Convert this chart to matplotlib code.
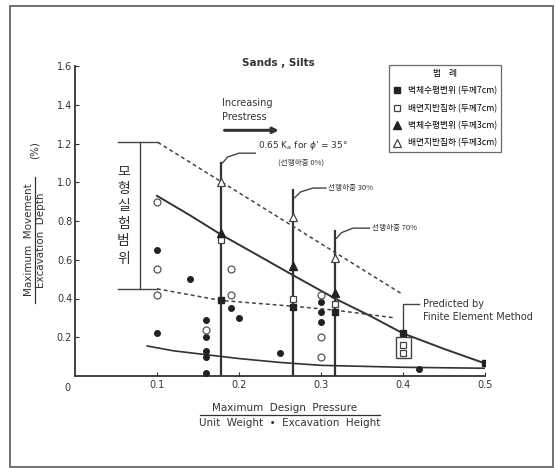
import matplotlib
matplotlib.use("Agg")
import matplotlib.pyplot as plt
from matplotlib.patches import Rectangle, FancyArrowPatch

plt.rcParams['font.family'] = ['DejaVu Sans']
KR = ['Noto Sans CJK KR', 'DejaVu Sans']

# --- data ---
fc_x = [0.10, 0.10, 0.14, 0.16, 0.16, 0.16, 0.16, 0.16, 0.19, 0.20, 0.25, 0.30, 0.30, 0.30, 0.42]
fc_y = [0.65, 0.22, 0.50, 0.29, 0.20, 0.13, 0.10, 0.015, 0.35, 0.30, 0.12, 0.38, 0.33, 0.28, 0.036]

oc_x = [0.10, 0.10, 0.10, 0.16, 0.19, 0.19, 0.30, 0.30, 0.30]
oc_y = [0.90, 0.55, 0.42, 0.24, 0.55, 0.42, 0.42, 0.20, 0.10]

fs_x = [0.178, 0.266, 0.317, 0.40, 0.50]
fs_y = [0.39, 0.355, 0.33, 0.22, 0.065]
os_x = [0.178, 0.266, 0.317, 0.40, 0.40]
os_y = [0.70, 0.40, 0.37, 0.16, 0.12]
ft_x = [0.178, 0.266, 0.317]
ft_y = [0.74, 0.57, 0.43]
ot_x = [0.178, 0.266, 0.317]
ot_y = [1.00, 0.82, 0.61]

upper_dash_x = [0.101, 0.40]
upper_dash_y = [1.206, 0.42]
lower_dash_x = [0.10, 0.178, 0.266, 0.317, 0.39]
lower_dash_y = [0.45, 0.39, 0.36, 0.34, 0.30]
upper_curve_x = [0.10, 0.14, 0.178, 0.22, 0.266, 0.317, 0.36, 0.40, 0.45, 0.50]
upper_curve_y = [0.93, 0.83, 0.73, 0.63, 0.52, 0.40, 0.31, 0.22, 0.14, 0.065]
lower_curve_x = [0.088, 0.12, 0.16, 0.20, 0.25, 0.30, 0.40, 0.50]
lower_curve_y = [0.155, 0.13, 0.11, 0.09, 0.07, 0.055, 0.045, 0.04]

vline_x = [0.178, 0.266, 0.317]
vline_top = [1.10, 0.96, 0.75]

range_label = '모형실험범위'
range_char_y = [1.055, 0.965, 0.875, 0.785, 0.695, 0.605]

legend_labels = ['벽체수평변위 (두께7cm)', '배면지반침하 (두께7cm)',
                 '벽체수평변위 (두께3cm)', '배면지반침하 (두께3cm)']

W, H = 556, 468
fig = plt.figure(figsize=(W / 100, H / 100), dpi=100)
ax = fig.add_axes([75 / W, 1 - 376 / H, 410 / W, 310 / H])
ax.set_xlim(0, 0.5)
ax.set_ylim(0, 1.6)
for s in ['top', 'right']:
    ax.spines[s].set_visible(False)
for s in ['left', 'bottom']:
    ax.spines[s].set_linewidth(1.3)
    ax.spines[s].set_color('#333333')
ax.set_xticks([0.1, 0.2, 0.3, 0.4, 0.5])
ax.set_xticklabels(['0.1', '0.2', '0.3', '0.4', '0.5'])
ax.set_yticks([0.2, 0.4, 0.6, 0.8, 1.0, 1.2, 1.4, 1.6])
ax.set_yticklabels(['0.2', '0.4', '0.6', '0.8', '1.0', '1.2', '1.4', '1.6'])
ax.tick_params(direction='in', length=3, labelsize=7, colors='#333333', pad=3)
ax.tick_params(axis='y', pad=2)
ax.text(-0.009, -0.035, '0', ha='center', va='top', fontsize=7, color='#333333')

gray = '#444444'
# vertical prestress lines
for x, t in zip(vline_x, vline_top):
    ax.plot([x, x], [0, t], color='#333333', lw=1.6, zorder=2)

# lines
dash = (0, (2.5, 2))
ax.plot(upper_dash_x, upper_dash_y, color=gray, lw=1.1, ls=dash)
ax.plot(lower_dash_x, lower_dash_y, color=gray, lw=1.1, ls=dash)
ax.plot(upper_curve_x, upper_curve_y, color='#333333', lw=1.4)
ax.plot(lower_curve_x, lower_curve_y, color='#333333', lw=1.2)

# bracket for model test range
ax.plot([0.052, 0.101], [1.206, 1.206], color=gray, lw=1.0)
ax.plot([0.079, 0.079], [1.206, 0.448], color=gray, lw=1.0)
ax.plot([0.052, 0.10], [0.448, 0.448], color=gray, lw=1.0)
for ch, cy in zip(range_label, range_char_y):
    ax.text(0.059, cy, ch, family=KR, fontsize=10, ha='center', va='center', color='#333333')

# markers
ax.plot(fc_x, fc_y, 'o', ms=4, color='#222222', zorder=4)
ax.plot(oc_x, oc_y, 'o', ms=5, mfc='white', mec='#555555', mew=0.9, zorder=4)
h1, = ax.plot(fs_x, fs_y, 's', ms=4.5, color='#222222', zorder=5)
h2, = ax.plot(os_x, os_y, 's', ms=5, mfc='white', mec='#444444', mew=0.9, zorder=5)
h3, = ax.plot(ft_x, ft_y, '^', ms=6, color='#222222', zorder=5)
h4, = ax.plot(ot_x, ot_y, '^', ms=6, mfc='white', mec='#444444', mew=0.9, zorder=5)

# predicted box
ax.add_patch(Rectangle((0.391, 0.093), 0.019, 0.107, fill=False, ec=gray, lw=1.0, zorder=3))

# annotations
ax.text(0.179, 1.41, 'Increasing', fontsize=7, va='center', color='#333333')
ax.text(0.179, 1.335, 'Prestress', fontsize=7, va='center', color='#333333')
ax.add_patch(FancyArrowPatch((0.179, 1.268), (0.252, 1.268), arrowstyle='-|>',
                             mutation_scale=8, lw=2.2, color='#333333'))

ax.text(0.223, 1.19, "0.65 K$_a$ for $\\phi$' = 35°", fontsize=6.5, va='center', color='#333333')
ax.text(0.276, 1.10, '(선행하중 0%)', family=KR, fontsize=5.5, ha='center', va='center', color='#333333')
ax.plot([0.180, 0.186, 0.20, 0.22], [1.10, 1.13, 1.15, 1.15], color=gray, lw=1.0)

ax.text(0.309, 0.97, '선행하중 30%', family=KR, fontsize=5.5, va='center', color='#333333')
ax.plot([0.268, 0.275, 0.29, 0.306], [0.92, 0.95, 0.97, 0.97], color=gray, lw=1.0)

ax.text(0.362, 0.763, '선행하중 70%', family=KR, fontsize=5.5, va='center', color='#333333')
ax.plot([0.319, 0.325, 0.339, 0.359], [0.711, 0.74, 0.763, 0.763], color=gray, lw=1.0)

ax.text(0.424, 0.371, 'Predicted by', fontsize=7, va='center', color='#333333', clip_on=False)
ax.text(0.424, 0.304, 'Finite Element Method', fontsize=7, va='center', color='#333333', clip_on=False)
ax.plot([0.40, 0.40, 0.42], [0.22, 0.371, 0.371], color=gray, lw=1.0)

# legend
leg = ax.legend([h1, h2, h3, h4], legend_labels, title='범    례',
                loc='upper left', bbox_to_anchor=(389 / W, 1 - 65 / H),
                bbox_transform=fig.transFigure, prop={'family': KR, 'size': 6.3},
                title_fontproperties={'family': KR, 'size': 6.3},
                frameon=True, fancybox=False, edgecolor='#444444',
                handlelength=1.0, handletextpad=0.7, labelspacing=0.95,
                borderpad=0.45, borderaxespad=0)
leg.get_frame().set_linewidth(0.9)

# title and axis labels
def ftext(x, y, s, **kw):
    fig.text(x / W, 1 - y / H, s, **kw)

ftext(278, 63, 'Sands , Silts', fontsize=7.5, fontweight='bold', ha='center', va='center', color='#333333')
ftext(29, 240, 'Maximum  Movement', fontsize=7.5, rotation=90, ha='center', va='center', color='#333333')
ftext(41, 240, 'Excavation  Depth', fontsize=7.5, rotation=90, ha='center', va='center', color='#333333')
fig.add_artist(plt.Line2D([35 / W, 35 / W], [1 - 177 / H, 1 - 303 / H], color='#333333', lw=0.9))
ftext(35, 150, '(%)', fontsize=7.5, rotation=90, ha='center', va='center', color='#333333')

ftext(285, 408, 'Maximum  Design  Pressure', fontsize=7.5, ha='center', va='center', color='#333333')
fig.add_artist(plt.Line2D([200 / W, 380 / W], [1 - 415 / H, 1 - 415 / H], color='#333333', lw=0.9))
ftext(290, 423, 'Unit  Weight  •  Excavation  Height', fontsize=7.5, ha='center', va='center', color='#333333')

# outer frame
fig.add_artist(Rectangle((10 / W, 1 - 467 / H), 543 / W, 461 / H, transform=fig.transFigure,
                         fill=False, ec='#666666', lw=1.3))

fig.savefig('out.png', dpi=100)
